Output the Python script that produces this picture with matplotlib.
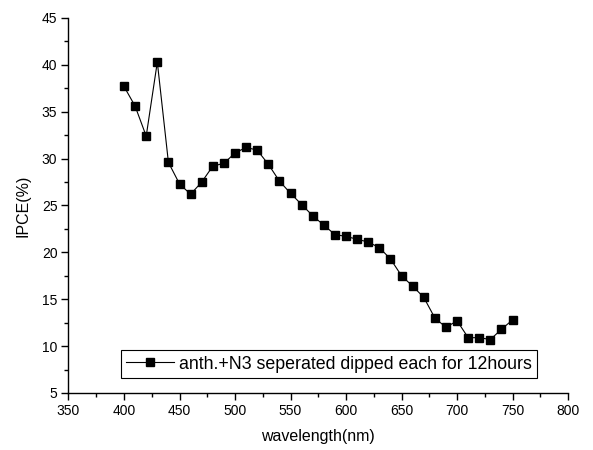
import matplotlib
matplotlib.use('Agg')
import matplotlib.pyplot as plt
from matplotlib.ticker import MultipleLocator

plt.rcParams['font.family'] = ['Liberation Sans', 'DejaVu Sans']

# wavelength (nm) and IPCE (%)
wavelength = [400, 410, 420, 430, 440, 450, 460, 470, 480, 490, 500, 510,
              520, 530, 540, 550, 560, 570, 580, 590, 600, 610, 620, 630,
              640, 650, 660, 670, 680, 690, 700, 710, 720, 730, 740, 750]
ipce = [37.7, 35.6, 32.4, 40.3, 29.6, 27.3, 26.2, 27.5, 29.2, 29.5, 30.6, 31.2,
        30.9, 29.4, 27.6, 26.3, 25.1, 23.9, 22.9, 21.9, 21.7, 21.4, 21.1, 20.5,
        19.3, 17.5, 16.4, 15.2, 13.0, 12.0, 12.7, 10.9, 10.9, 10.7, 11.8, 12.8]
label = 'anth.+N3 seperated dipped each for 12hours'

fig = plt.figure(figsize=(5.93, 4.5), dpi=100)
ax = fig.add_axes([0.1155, 0.1267, 0.8425, 0.8333])

ax.plot(wavelength, ipce, color='black', linewidth=0.8, marker='s',
        markersize=5.5, label=label)

ax.set_xlim(350, 800)
ax.set_ylim(5, 45)
ax.xaxis.set_major_locator(MultipleLocator(50))
ax.xaxis.set_minor_locator(MultipleLocator(25))
ax.yaxis.set_major_locator(MultipleLocator(5))
ax.yaxis.set_minor_locator(MultipleLocator(2.5))
ax.tick_params(which='both', direction='out', width=1, labelsize=10)
ax.tick_params(which='major', length=5, pad=3)
ax.tick_params(which='minor', length=3)
for side in ['top', 'right']:
    ax.spines[side].set_visible(False)
for side in ['left', 'bottom']:
    ax.spines[side].set_linewidth(1)

ax.set_xlabel('wavelength(nm)', fontsize=11.5, labelpad=8)
ax.set_ylabel('IPCE(%)', fontsize=11.5, labelpad=8)

leg = ax.legend(loc='lower left', bbox_to_anchor=(0.105, 0.04), borderaxespad=0,
                fontsize=12.8, fancybox=False, edgecolor='black', framealpha=1,
                handlelength=2.7, handletextpad=0.25, borderpad=0.3)
leg.get_frame().set_linewidth(0.8)

fig.savefig('out.png', dpi=100)
